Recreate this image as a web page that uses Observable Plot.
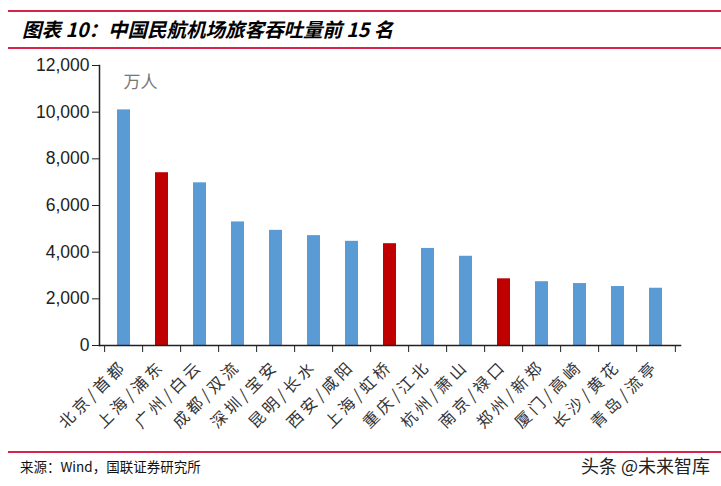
<!DOCTYPE html>
<html><head><meta charset="utf-8">
<script src="https://cdn.jsdelivr.net/npm/d3@7"></script>
<script src="https://cdn.jsdelivr.net/npm/@observablehq/plot@0.6"></script>
<style>
body{margin:0;background:#fff;}
#wrap{position:relative;width:721px;height:486px;overflow:hidden;background:#fff;font-family:"Liberation Sans",Arial,sans-serif;}
.rule{position:absolute;left:8px;right:0;height:2px;background:#d8234c;}
#title{position:absolute;left:22px;top:17px;font-family:"Noto Sans CJK SC";font-weight:bold;font-style:italic;font-size:19.5px;line-height:24px;color:#000;white-space:nowrap;}
#chart{position:absolute;left:0;top:50px;}
#source{position:absolute;left:20px;top:457px;font-family:"Noto Sans CJK SC";font-size:13.5px;line-height:18px;color:#111;white-space:nowrap;}
#mark{position:absolute;left:581px;top:453px;font-family:"Noto Sans CJK SC";font-size:18px;line-height:24px;color:#222;white-space:nowrap;}
</style></head>
<body>
<div id="wrap">
  <div class="rule" style="top:10px"></div>
  <div id="title">图表 10：中国民航机场旅客吞吐量前 15 名</div>
  <div class="rule" style="top:47px"></div>
  <div id="chart"></div>
  <div class="rule" style="top:451px"></div>
  <div id="source">来源：Wind，国联证券研究所</div>
  <div id="mark">头条 @未来智库</div>
</div>
<script>
const categories = ["北京/首都","上海/浦东","广州/白云","成都/双流","深圳/宝安","昆明/长水","西安/咸阳","上海/虹桥","重庆/江北","杭州/萧山","南京/禄口","郑州/新郑","厦门/高崎","长沙/黄花","青岛/流亭"];
const values = [10098, 7405, 6972, 5295, 4935, 4709, 4465, 4363, 4160, 3824, 2858, 2734, 2655, 2527, 2454];
const highlight = ["上海/浦东","上海/虹桥","南京/禄口"];
const yTicks = [0, 2000, 4000, 6000, 8000, 10000, 12000];
const unitLabel = ["万人"];

const data = categories.map((name, i) => ({name, value: values[i]}));
const W = 721, mL = 99, mR = 41;
const step = (W - mL - mR) / categories.length;

const chart = Plot.plot({
  width: W, height: 400,
  marginLeft: mL, marginRight: mR, marginTop: 15, marginBottom: 105,
  x: {domain: categories, paddingInner: 0.66, paddingOuter: 0.33},
  y: {domain: [0, 12000]},
  style: {fontFamily: "Liberation Sans, Arial, sans-serif", fontSize: "16px", color: "#222", background: "#fff", overflow: "visible"},
  marks: [
    Plot.barY(data, {x: "name", y: "value", fill: d => highlight.includes(d.name) ? "#c00000" : "#5b9bd5"}),
    Plot.axisY(yTicks, {tickFormat: d3.format(","), tickSize: 7, tickPadding: 3, label: null, fontSize: 17.5, stroke: "#222", fill: "#222"}),
    Plot.axisX({tickSize: 7, tickFormat: () => "", dx: -step / 2, label: null, stroke: "#222"}),
    Plot.axisX([categories[categories.length - 1]], {tickSize: 7, tickFormat: () => "", dx: step / 2, label: null, stroke: "#222"}),
    Plot.axisX({tickSize: 0, tickRotate: -45, tickPadding: 18, fontSize: 16, fontFamily: "Noto Sans CJK SC", fill: "#333", label: null}),
    Plot.frame({anchor: "left", stroke: "#222", strokeWidth: 1.5}),
    Plot.frame({anchor: "bottom", stroke: "#222", strokeWidth: 1.5}),
    Plot.text(unitLabel, {frameAnchor: "top-left", dx: 24, dy: 10, textAnchor: "start", fontSize: 17, fill: "#777", fontFamily: "Noto Sans CJK SC"})
  ]
});
chart.querySelectorAll("text").forEach(t => {
  if (categories.includes(t.textContent)) t.setAttribute("letter-spacing", "3.5");
});
document.getElementById("chart").appendChild(chart);
</script>
</body></html>
